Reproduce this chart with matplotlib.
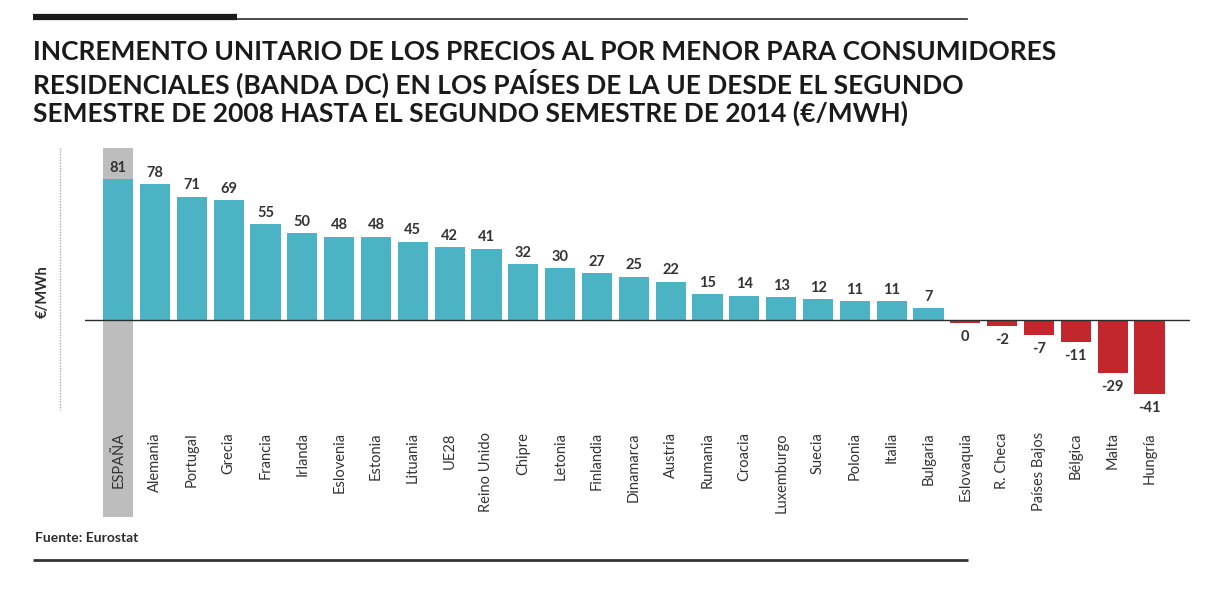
import matplotlib
matplotlib.use("Agg")
import matplotlib.pyplot as plt
from matplotlib.lines import Line2D

# datos
paises = ["ESPAÑA", "Alemania", "Portugal", "Grecia", "Francia", "Irlanda", "Eslovenia",
          "Estonia", "Lituania", "UE28", "Reino Unido", "Chipre", "Letonia", "Finlandia",
          "Dinamarca", "Austria", "Rumania", "Croacia", "Luxemburgo", "Suecia", "Polonia",
          "Italia", "Bulgaria", "Eslovaquia", "R. Checa", "Países Bajos", "Bélgica",
          "Malta", "Hungría"]
valores = [81, 78, 71, 69, 55, 50, 48, 48, 45, 42, 41, 32, 30, 27, 25, 22, 15, 14, 13,
           12, 11, 11, 7, -0.4, -2, -7, -11, -29, -41]

TEAL = "#4bb3c4"
RED = "#c1272d"
GRAY = "#bdbdbd"
DARK = "#2b2b2b"

plt.rcParams["font.family"] = ["Lato", "DejaVu Sans"]

W, H = 1210, 605
fig = plt.figure(figsize=(W / 100, H / 100), dpi=100)

# axes in pixel terms
x0, x1 = 85, 1190
y_top, y_bot = 148, 410
ax = fig.add_axes([x0 / W, 1 - y_bot / H, (x1 - x0) / W, (y_bot - y_top) / H])

ymin, ymax = -51.7, 98.9
ax.set_xlim(-0.9, 29.1)
ax.set_ylim(ymin, ymax)

xs = list(range(len(paises)))
colors = [TEAL if v >= 0 else RED for v in valores]
# las barras negativas del original bajan un poco mas que su valor
alturas = [v if v >= 0 else v - 1.5 for v in valores]

# franja gris de España
ax.bar(0, ymax + 113, bottom=-113, width=0.82, color=GRAY, zorder=0, clip_on=False)

ax.bar(xs, alturas, width=0.82, color=colors, zorder=2)
ax.axhline(0, color=DARK, lw=1, zorder=3)

for x, v, h in zip(xs, valores, alturas):
    txt = "%d" % int(round(v))
    if v >= 0:
        ax.text(x, h + 2.5, txt, ha="center", va="bottom", fontsize=10.5,
                fontweight="bold", color="#333333")
    else:
        ax.text(x, h - 4, txt, ha="center", va="top", fontsize=10.5,
                fontweight="bold", color="#333333")

ax.set_xticks(xs)
ax.set_xticklabels(paises, rotation=90, va="top", ha="center", fontsize=10.5, color="#333333")
ax.tick_params(axis="x", length=0, pad=16)
ax.set_yticks([])
for s in ax.spines.values():
    s.set_visible(False)

# eje vertical punteado
fig.add_artist(Line2D([60 / W, 60 / W], [1 - 148 / H, 1 - 410 / H], transform=fig.transFigure,
                      color="#aaaaaa", lw=1, ls=(0, (1, 1))))
fig.text(43 / W, 1 - 292 / H, "€/MWh", rotation=90, ha="center", va="center",
         fontsize=10.5, fontweight="bold", color=DARK)

# reglas superior e inferior
fig.add_artist(Line2D([237 / W, 967 / W], [1 - 19 / H, 1 - 19 / H], transform=fig.transFigure,
                      color=DARK, lw=1.2))
fig.add_artist(Line2D([33 / W, 237 / W], [1 - 17 / H, 1 - 17 / H], transform=fig.transFigure,
                      color="#1a1a1a", lw=4.5, solid_capstyle="butt"))
fig.add_artist(Line2D([33 / W, 968 / W], [1 - 560 / H, 1 - 560 / H], transform=fig.transFigure,
                      color="#333333", lw=2, solid_capstyle="butt"))

titulo = ("INCREMENTO UNITARIO DE LOS PRECIOS AL POR MENOR PARA CONSUMIDORES\n"
          "RESIDENCIALES (BANDA DC) EN LOS PAÍSES DE LA UE DESDE EL SEGUNDO\n"
          "SEMESTRE DE 2008 HASTA EL SEGUNDO SEMESTRE DE 2014 (€/MWH)")
fig.text(33 / W, 1 - 40 / H, titulo, ha="left", va="top", fontsize=19, fontweight="bold",
         color="#1a1a1a", linespacing=1.17)

fig.text(35 / W, 1 - 538 / H, "Fuente: Eurostat", ha="left", va="center", fontsize=10,
         fontweight="bold", color=DARK)

fig.savefig("out.png", dpi=100)
